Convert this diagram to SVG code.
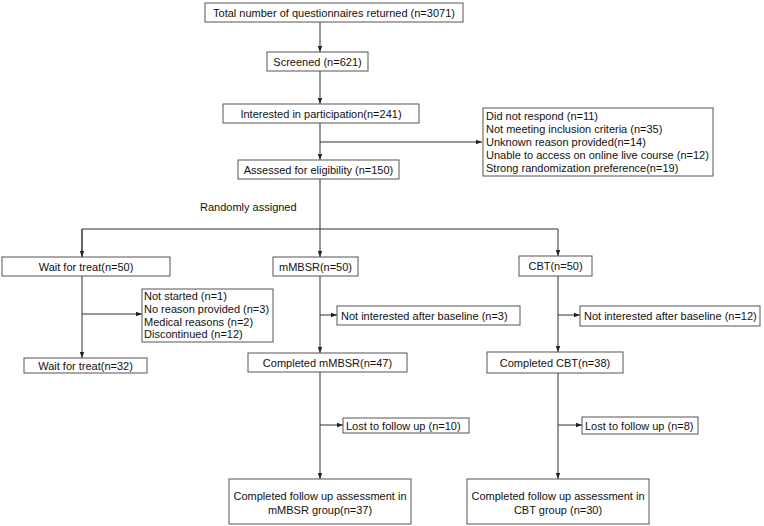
<svg xmlns="http://www.w3.org/2000/svg" width="764" height="526" viewBox="0 0 764 526">
<style>
.box{fill:#fff;stroke:#555;stroke-width:1}
.ln{fill:none;stroke:#333;stroke-width:1}
text{font-family:"Liberation Sans",Arial,sans-serif;font-size:11px;fill:#111}
.c{text-anchor:middle}
</style>
<defs>
<marker id="ah" viewBox="0 0 6 6" refX="6" refY="3" markerWidth="6" markerHeight="6" markerUnits="userSpaceOnUse" orient="auto">
<path d="M0,0.8 L6,3 L0,5.2 Z" fill="#222"/>
</marker>
</defs>
<rect width="764" height="526" fill="#fff"/>
<g id="connectors">
<line class="ln" x1="320" y1="22" x2="320" y2="52" marker-end="url(#ah)"/>
<line class="ln" x1="320" y1="71" x2="320" y2="104" marker-end="url(#ah)"/>
<line class="ln" x1="320" y1="123" x2="320" y2="160" marker-end="url(#ah)"/>
<line class="ln" x1="320" y1="142" x2="482" y2="142" marker-end="url(#ah)"/>
<line class="ln" x1="320" y1="179" x2="320" y2="257" marker-end="url(#ah)"/>
<polyline class="ln" points="82,257 82,229 558,229 558,256" marker-end="url(#ah)"/>
<line class="ln" x1="82" y1="229" x2="82" y2="257" marker-end="url(#ah)"/>
<line class="ln" x1="82" y1="276" x2="82" y2="358" marker-end="url(#ah)"/>
<line class="ln" x1="82" y1="314" x2="142" y2="314" marker-end="url(#ah)"/>
<line class="ln" x1="320" y1="276" x2="320" y2="353" marker-end="url(#ah)"/>
<line class="ln" x1="320" y1="315" x2="337" y2="315" marker-end="url(#ah)"/>
<line class="ln" x1="558" y1="276" x2="558" y2="352" marker-end="url(#ah)"/>
<line class="ln" x1="558" y1="315" x2="580" y2="315" marker-end="url(#ah)"/>
<line class="ln" x1="320" y1="372" x2="320" y2="479" marker-end="url(#ah)"/>
<line class="ln" x1="320" y1="425" x2="343" y2="425" marker-end="url(#ah)"/>
<line class="ln" x1="558" y1="373" x2="558" y2="479" marker-end="url(#ah)"/>
<line class="ln" x1="558" y1="425" x2="582" y2="425" marker-end="url(#ah)"/>
</g>
<g id="n-total"><rect class="box" x="205" y="3" width="258" height="19"/><text class="c" x="334" y="16.5">Total number of questionnaires returned (n=3071)</text></g>
<g id="n-screened"><rect class="box" x="267" y="52" width="101" height="19"/><text class="c" x="317.5" y="65.5">Screened (n=621)</text></g>
<g id="n-interested"><rect class="box" x="223" y="104" width="196" height="19"/><text class="c" x="321" y="117.5">Interested in participation(n=241)</text></g>
<g id="n-excluded1"><rect class="box" x="483" y="108" width="230" height="68"/>
<text x="486" y="120">Did not respond (n=11)</text>
<text x="486" y="133">Not meeting inclusion criteria (n=35)</text>
<text x="486" y="146">Unknown reason provided(n=14)</text>
<text x="486" y="159">Unable to access on online live course (n=12)</text>
<text x="486" y="172">Strong randomization preference(n=19)</text></g>
<g id="n-assessed"><rect class="box" x="238" y="160" width="161" height="19"/><text class="c" x="318.5" y="173.5">Assessed for eligibility (n=150)</text></g>
<g id="l-random"><text x="200" y="211">Randomly assigned</text></g>
<g id="n-wait50"><rect class="box" x="2" y="257" width="168" height="19"/><text class="c" x="86" y="270.5">Wait for treat(n=50)</text></g>
<g id="n-mmbsr50"><rect class="box" x="273" y="257" width="85" height="19"/><text class="c" x="315.5" y="270.5">mMBSR(n=50)</text></g>
<g id="n-cbt50"><rect class="box" x="519" y="256" width="73" height="20"/><text class="c" x="555.5" y="270">CBT(n=50)</text></g>
<g id="n-excluded-wait"><rect class="box" x="142" y="289" width="131" height="53"/>
<text x="144" y="300">Not started (n=1)</text>
<text x="144" y="313">No reason provided (n=3)</text>
<text x="144" y="326">Medical reasons (n=2)</text>
<text x="144" y="338">Discontinued (n=12)</text></g>
<g id="n-excl-mmbsr"><rect class="box" x="337" y="306" width="183" height="19"/><text x="341" y="319.5">Not interested after baseline (n=3)</text></g>
<g id="n-excl-cbt"><rect class="box" x="580" y="306" width="180" height="20"/><text x="584" y="320">Not interested after baseline (n=12)</text></g>
<g id="n-wait32"><rect class="box" x="24" y="358" width="123" height="15"/><text class="c" x="85.5" y="369.5">Wait for treat(n=32)</text></g>
<g id="n-comp-mmbsr"><rect class="box" x="248" y="353" width="159" height="19"/><text class="c" x="327.5" y="366.5">Completed mMBSR(n=47)</text></g>
<g id="n-comp-cbt"><rect class="box" x="487" y="352" width="136" height="21"/><text class="c" x="555" y="366.5">Completed CBT(n=38)</text></g>
<g id="n-lost-mmbsr"><rect class="box" x="343" y="418" width="126" height="15"/><text x="346" y="429.5">Lost to follow up (n=10)</text></g>
<g id="n-lost-cbt"><rect class="box" x="582" y="417" width="116" height="17"/><text x="585" y="429.5">Lost to follow up (n=8)</text></g>
<g id="n-fu-mmbsr"><rect class="box" x="229" y="479" width="182" height="45"/><text class="c" x="320" y="500">Completed follow up assessment in</text><text class="c" x="320" y="514">mMBSR group(n=37)</text></g>
<g id="n-fu-cbt"><rect class="box" x="467" y="479" width="182" height="45"/><text class="c" x="558" y="500">Completed follow up assessment in</text><text class="c" x="558" y="514">CBT group (n=30)</text></g>
</svg>
